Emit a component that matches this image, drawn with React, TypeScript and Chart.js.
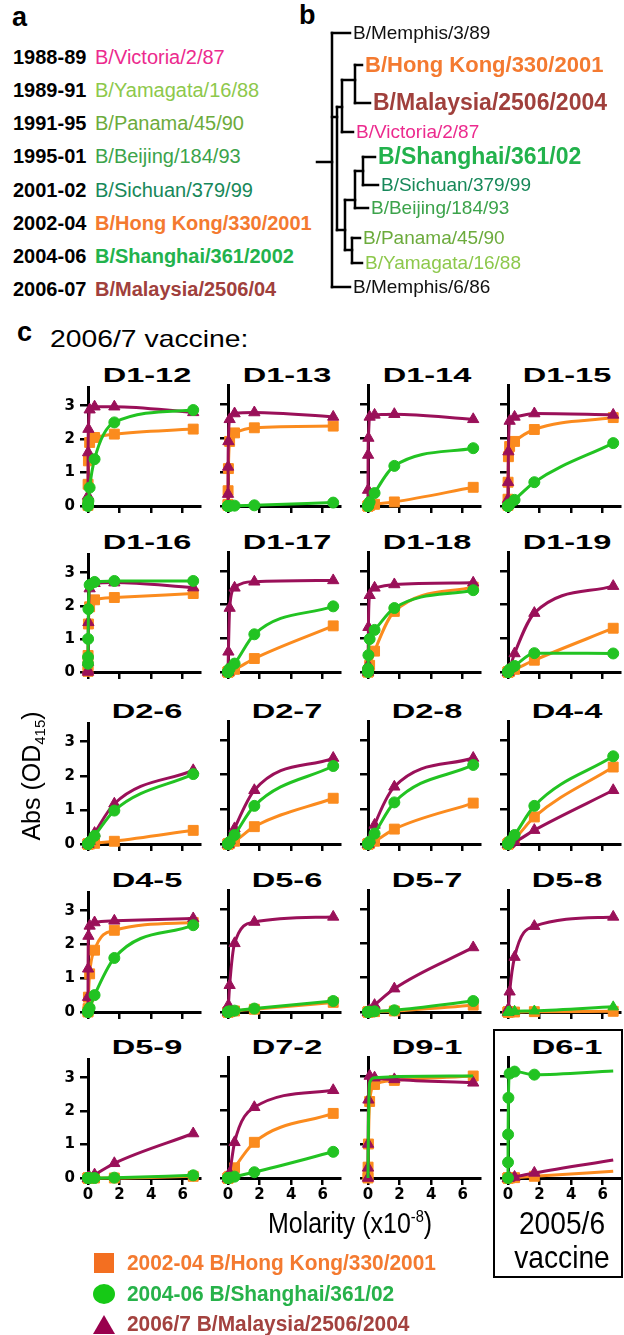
import React, { useEffect, useRef } from 'react';
import { Chart, registerables } from 'chart.js';
Chart.register(...registerables);

const FONT = '"Liberation Sans", Arial, Helvetica, sans-serif';
const TICK_FONT = '"DejaVu Sans", "Liberation Sans", Arial, sans-serif';

// ---------- DATA ----------
// antibody concentration (x10^-8 M), 4-fold dilution series
const molarity = [0.0004, 0.0016, 0.0065, 0.026, 0.104, 0.417, 1.67, 6.67];
const xTicks = [0, 2, 4, 6];
const yTicks = [0, 1, 2, 3];

const panelNames = [
  'D1-12', 'D1-13', 'D1-14', 'D1-15',
  'D1-16', 'D1-17', 'D1-18', 'D1-19',
  'D2-6', 'D2-7', 'D2-8', 'D4-4',
  'D4-5', 'D5-6', 'D5-7', 'D5-8',
  'D5-9', 'D7-2', 'D9-1', 'D6-1',
];

// Abs (OD415) against 2002-04 B/Hong Kong/330/2001
const hongKong = [
  [0.02, 0.1, 0.65, 1.35, 1.9, 2.05, 2.15, 2.3],
  [0.02, 0.05, 0.45, 1.1, 1.9, 2.15, 2.3, 2.35],
  [0, 0, 0, 0.01, 0.02, 0.05, 0.12, 0.55],
  [0.02, 0.2, 0.7, 1.45, 1.75, 1.9, 2.25, 2.6],
  [0.02, 0.2, 0.5, 1.45, 1.97, 2.18, 2.25, 2.37],
  [0, 0, 0, 0.01, 0.03, 0.08, 0.4, 1.37],
  [0, 0, 0.01, 0.05, 0.2, 0.62, 1.8, 2.52],
  [0, 0, 0, 0, 0.02, 0.08, 0.35, 1.3],
  [0, 0, 0, 0, 0, 0.02, 0.08, 0.4],
  [0, 0, 0, 0, 0.02, 0.08, 0.5, 1.32],
  [0, 0, 0, 0, 0.02, 0.08, 0.43, 1.18],
  [0, 0, 0, 0.01, 0.05, 0.15, 0.78, 2.22],
  [0, 0.02, 0.1, 0.44, 1.13, 1.83, 2.42, 2.65],
  [0, 0, 0, 0, 0.01, 0.03, 0.08, 0.28],
  [0, 0, 0, 0, 0, 0.01, 0.03, 0.2],
  [0, 0, 0, 0, 0, 0, 0.01, 0.02],
  [0, 0, 0, 0, 0, 0, 0, 0.05],
  [0, 0, 0, 0, 0.05, 0.3, 1.05, 1.9],
  [0, 0.05, 0.32, 1.0, 2.25, 2.75, 2.87, 3.0],
  [0, 0, 0, 0, 0, 0.01, 0.05, 0.2],
];

// Abs (OD415) against 2004-06 B/Shanghai/361/02
const shanghai = [
  [0, 0.02, 0.05, 0.15, 0.55, 1.4, 2.5, 2.87],
  [0, 0, 0, 0, 0, 0.01, 0.02, 0.1],
  [0, 0, 0.01, 0.03, 0.12, 0.38, 1.18, 1.7],
  [0, 0, 0, 0.02, 0.05, 0.18, 0.7, 1.85],
  [0.25, 0.45, 1.0, 1.9, 2.63, 2.72, 2.75, 2.75],
  [0, 0, 0.01, 0.03, 0.1, 0.25, 1.12, 1.95],
  [0, 0.02, 0.1, 0.5, 0.98, 1.25, 1.9, 2.43],
  [0, 0, 0, 0.02, 0.08, 0.18, 0.56, 0.55],
  [0, 0, 0, 0.02, 0.06, 0.24, 0.98, 2.05],
  [0, 0, 0, 0.02, 0.06, 0.26, 1.1, 2.25],
  [0, 0, 0, 0.02, 0.07, 0.3, 1.2, 2.28],
  [0, 0, 0, 0.02, 0.08, 0.26, 1.1, 2.53],
  [0, 0, 0.02, 0.05, 0.12, 0.5, 1.6, 2.57],
  [0, 0, 0, 0.01, 0.02, 0.04, 0.1, 0.32],
  [0, 0, 0, 0, 0.01, 0.02, 0.05, 0.32],
  [0, 0, 0, 0, 0.01, 0.02, 0.03, 0.15],
  [0, 0, 0, 0, 0, 0, 0.01, 0.08],
  [0, 0, 0, 0, 0.01, 0.04, 0.17, 0.77],
  [0, 0.1, 0.5, 1.5, 2.8, 2.95, 2.98, 3.0],
  [0, 0.46, 1.28, 2.36, 3.07, 3.13, 3.04, 3.15],
];

// Abs (OD415) against 2006/7 B/Malaysia/2506/2004
const malaysia = [
  [0.05, 0.3, 1.6, 2.3, 2.88, 2.97, 2.97, 2.8],
  [0.02, 0.35, 1.15, 1.9, 2.55, 2.72, 2.75, 2.62],
  [0.05, 0.47, 1.5, 2.0, 2.62, 2.68, 2.7, 2.55],
  [0.02, 0.2, 0.7, 1.6, 2.5, 2.62, 2.72, 2.68],
  [0, 0.05, 0.3, 1.5, 2.52, 2.68, 2.7, 2.55],
  [0, 0.02, 0.1, 0.6, 1.9, 2.5, 2.68, 2.72],
  [0, 0.05, 0.2, 1.33, 2.28, 2.5, 2.6, 2.65],
  [0, 0, 0, 0.02, 0.1, 0.55, 1.75, 2.55],
  [0, 0, 0, 0.02, 0.08, 0.32, 1.18, 2.16],
  [0, 0, 0, 0.02, 0.1, 0.45, 1.55, 2.48],
  [0, 0, 0, 0.02, 0.12, 0.55, 1.65, 2.48],
  [0, 0, 0, 0, 0.02, 0.06, 0.4, 1.55],
  [0.05, 0.44, 1.28, 2.25, 2.55, 2.65, 2.7, 2.77],
  [0, 0.01, 0.05, 0.2, 0.78, 2.0, 2.62, 2.77],
  [0, 0, 0, 0.01, 0.05, 0.2, 0.68, 1.88],
  [0, 0, 0.02, 0.1, 0.59, 1.6, 2.5, 2.77],
  [0, 0, 0, 0, 0.02, 0.1, 0.44, 1.33],
  [0, 0, 0, 0.02, 0.15, 1.05, 2.08, 2.58],
  [0, 0.3, 1.0, 2.3, 3.0, 2.95, 2.9, 2.8],
  [0, 0, 0, 0, 0.01, 0.03, 0.15, 0.53],
];

const noEndMarkers = ['D6-1'];
const lineOnly: Record<string, string> = { 'D9-1': 'sh' };
const shTriangles = ['D5-8'];

const seasonYears = ['1988-89', '1989-91', '1991-95', '1995-01', '2001-02', '2002-04', '2004-06', '2006-07'];
const seasonStrains = [
  'B/Victoria/2/87', 'B/Yamagata/16/88', 'B/Panama/45/90', 'B/Beijing/184/93',
  'B/Sichuan/379/99', 'B/Hong Kong/330/2001', 'B/Shanghai/361/2002', 'B/Malaysia/2506/04',
];

const legendLabels = ['2002-04 B/Hong Kong/330/2001', '2004-06 B/Shanghai/361/02', '2006/7 B/Malaysia/2506/2004'];

// phylogenetic tree: depth = branch position, pos = leaf/node row
const treeNodes = [
  { id: 'root', parent: '', depth: 32, pos: 162, label: '' },
  { id: 'm3', parent: 'root', depth: 50, pos: 33, label: 'B/Memphis/3/89' },
  { id: 'A', parent: 'root', depth: 37, pos: 117, label: '' },
  { id: 'U', parent: 'A', depth: 42, pos: 107, label: '' },
  { id: 'HM', parent: 'U', depth: 55, pos: 80, label: '' },
  { id: 'hk', parent: 'HM', depth: 62, pos: 65, label: 'B/Hong Kong/330/2001' },
  { id: 'my', parent: 'HM', depth: 70, pos: 103, label: 'B/Malaysia/2506/2004' },
  { id: 'vic', parent: 'U', depth: 53, pos: 132, label: 'B/Victoria/2/87' },
  { id: 'L', parent: 'A', depth: 45, pos: 230, label: '' },
  { id: 'SSB', parent: 'L', depth: 55, pos: 200, label: '' },
  { id: 'SS', parent: 'SSB', depth: 63, pos: 171, label: '' },
  { id: 'sh', parent: 'SS', depth: 75, pos: 157, label: 'B/Shanghai/361/02' },
  { id: 'sc', parent: 'SS', depth: 78, pos: 185, label: 'B/Sichuan/379/99' },
  { id: 'bj', parent: 'SSB', depth: 68, pos: 208, label: 'B/Beijing/184/93' },
  { id: 'PY', parent: 'L', depth: 52, pos: 250, label: '' },
  { id: 'pa', parent: 'PY', depth: 60, pos: 238, label: 'B/Panama/45/90' },
  { id: 'ya', parent: 'PY', depth: 62, pos: 263, label: 'B/Yamagata/16/88' },
  { id: 'm6', parent: 'root', depth: 50, pos: 287, label: 'B/Memphis/6/86' },
];
const treeRootStub = 17;

// ---------- STYLES / LAYOUT ----------
const ORANGE = '#FB8B1E';
const GREEN = '#22C322';
const MAROON = '#9A1059';

const strainColors = ['#EC2A8E', '#8DC84B', '#6CAB3C', '#3CA34B', '#17885A', '#F47A30', '#22B24C', '#A0403C'];
const strainBold = [false, false, false, false, false, true, true, true];
const rowCenters = [57, 90, 123, 156, 190, 223, 256, 289];

const leafStyle: Record<string, { color: string; bold: boolean; size: number }> = {
  m3: { color: '#111', bold: false, size: 19 },
  hk: { color: '#F47A30', bold: true, size: 22 },
  my: { color: '#A0403C', bold: true, size: 23 },
  vic: { color: '#EC2A8E', bold: false, size: 19 },
  sh: { color: '#22B24C', bold: true, size: 23 },
  sc: { color: '#17885A', bold: false, size: 19 },
  bj: { color: '#3CA34B', bold: false, size: 19 },
  pa: { color: '#6CAB3C', bold: false, size: 19 },
  ya: { color: '#8DC84B', bold: false, size: 19 },
  m6: { color: '#111', bold: false, size: 19 },
};

const COL_X = [88, 228, 368, 508];
const ROW_Y0 = [506, 672, 844, 1012, 1178];
const ROW_Y3 = [404, 571, 740, 909, 1076];
const X_MAX = 7.1;
const PLOT_W = 112;
const Y_AXIS_W = 44;
const X_AXIS_H = 30;
const PAD_T = 12;
const PAD_R = 14;

function geom(row: number, col: number) {
  const y0 = ROW_Y0[row];
  const unit = (y0 - ROW_Y3[row]) / 3;
  const axisTop = Math.round(y0 - 3.55 * unit);
  const plotH = y0 - axisTop;
  return {
    left: COL_X[col] - Y_AXIS_W,
    top: axisTop - PAD_T,
    width: Y_AXIS_W + PLOT_W + PAD_R,
    height: PAD_T + plotH + X_AXIS_H,
    yMax: plotH / unit,
    axisTop,
  };
}

function AbsPanel({ idx }: { idx: number }) {
  const ref = useRef<HTMLCanvasElement>(null);
  const row = Math.floor(idx / 4);
  const col = idx % 4;
  const g = geom(row, col);
  useEffect(() => {
    const name = panelNames[idx];
    const series = [
      { key: 'hk', label: legendLabels[0], values: hongKong[idx], color: ORANGE, style: 'rect', radius: 7, order: 3 },
      { key: 'my', label: legendLabels[2], values: malaysia[idx], color: MAROON, style: 'triangle', radius: 6.5, order: 2 },
      { key: 'sh', label: legendLabels[1], values: shanghai[idx], color: GREEN, style: shTriangles.includes(name) ? 'triangle' : 'circle', radius: shTriangles.includes(name) ? 6 : 5.5, order: 1 },
    ];
    const datasets = series.map((s) => ({
      label: s.label,
      data: molarity.map((x, i) => ({ x, y: s.values[i] })),
      showLine: true,
      borderColor: s.color,
      backgroundColor: s.color,
      borderWidth: 3,
      pointStyle: s.style,
      pointRadius: molarity.map((_, i) =>
        lineOnly[name] === s.key || (noEndMarkers.includes(name) && i === molarity.length - 1) ? 0 : s.radius
      ),
      pointBorderColor: s.color,
      pointBorderWidth: 1,
      cubicInterpolationMode: 'monotone',
      clip: false,
      order: s.order,
    }));
    const chart = new Chart(ref.current as HTMLCanvasElement, {
      type: 'scatter',
      data: { datasets } as any,
      options: {
        responsive: false,
        animation: false,
        events: [],
        layout: { padding: { top: PAD_T, right: PAD_R, left: 0, bottom: 0 } },
        plugins: { legend: { display: false }, tooltip: { enabled: false }, title: { display: false } },
        scales: {
          x: {
            type: 'linear',
            min: 0,
            max: X_MAX,
            afterBuildTicks: (s: any) => { s.ticks = xTicks.map((v) => ({ value: v })); },
            afterFit: (s: any) => { s.height = X_AXIS_H; },
            ticks: { display: row === 4, color: '#000', font: { family: TICK_FONT, size: 15, weight: 'bold' }, padding: 1, maxRotation: 0, autoSkip: false },
            grid: { display: true, drawOnChartArea: false, drawTicks: true, tickLength: 7, color: '#000', lineWidth: 2.5 },
            border: { display: true, color: '#000', width: 3 },
          },
          y: {
            type: 'linear',
            min: 0,
            max: g.yMax,
            afterBuildTicks: (s: any) => { s.ticks = yTicks.map((v) => ({ value: v })); },
            afterFit: (s: any) => { s.width = Y_AXIS_W; },
            ticks: { display: col === 0, color: '#000', font: { family: TICK_FONT, size: 15, weight: 'bold' }, padding: 5, autoSkip: false },
            grid: { display: true, drawOnChartArea: false, drawTicks: true, tickLength: 8, color: '#000', lineWidth: 2.5 },
            border: { display: true, color: '#000', width: 3 },
          },
        },
      } as any,
    });
    return () => chart.destroy();
  }, [idx]);
  return (
    <canvas
      ref={ref}
      width={g.width}
      height={g.height}
      style={{ position: 'absolute', left: g.left, top: g.top, width: g.width, height: g.height }}
    />
  );
}

function TreeChart() {
  const ref = useRef<HTMLCanvasElement>(null);
  useEffect(() => {
    const byId: Record<string, any> = {};
    treeNodes.forEach((n) => (byId[n.id] = n));
    const segs: { x: number; y: number }[][] = [];
    const root = treeNodes[0];
    segs.push([{ x: treeRootStub, y: root.pos }, { x: root.depth, y: root.pos }]);
    treeNodes.forEach((n) => {
      if (!n.parent) return;
      const p = byId[n.parent];
      segs.push([{ x: p.depth, y: n.pos }, { x: n.depth, y: n.pos }]);
    });
    treeNodes.forEach((n) => {
      const kids = treeNodes.filter((k) => k.parent === n.id);
      if (!kids.length) return;
      const ys = kids.map((k) => k.pos).concat([n.pos]);
      segs.push([{ x: n.depth, y: Math.min(...ys) }, { x: n.depth, y: Math.max(...ys) }]);
    });
    const labelPlugin = {
      id: 'treeLabels',
      afterDatasetsDraw(chart: any) {
        const { ctx, scales } = chart;
        treeNodes.forEach((n) => {
          if (!n.label) return;
          const st = leafStyle[n.id];
          ctx.save();
          ctx.font = `${st.bold ? 'bold ' : ''}${st.size}px ${FONT}`;
          ctx.fillStyle = st.color;
          ctx.textBaseline = 'middle';
          ctx.fillText(n.label, scales.x.getPixelForValue(n.depth) + 3, scales.y.getPixelForValue(n.pos) + 1);
          ctx.restore();
        });
      },
    };
    const chart = new Chart(ref.current as HTMLCanvasElement, {
      type: 'scatter',
      data: {
        datasets: segs.map((s) => ({
          data: s,
          showLine: true,
          borderColor: '#000',
          borderWidth: 2.5,
          borderCapStyle: 'square',
          pointRadius: 0,
          clip: false,
        })),
      } as any,
      options: {
        responsive: false,
        animation: false,
        events: [],
        layout: { padding: 0 },
        plugins: { legend: { display: false }, tooltip: { enabled: false } },
        scales: {
          x: { type: 'linear', min: 0, max: 324, display: false },
          y: { type: 'linear', min: 0, max: 300, reverse: true, display: false },
        },
      } as any,
      plugins: [labelPlugin],
    });
    return () => chart.destroy();
  }, []);
  return <canvas ref={ref} width={324} height={300} style={{ position: 'absolute', left: 300, top: 0, width: 324, height: 300 }} />;
}

function Txt(props: {
  x: number; base: number; size: number; bold?: boolean; color?: string; sx?: number;
  center?: boolean; children: React.ReactNode;
}) {
  const { x, base, size, bold, color, sx = 1, center, children } = props;
  const top = base - 0.8465 * size;
  return (
    <div
      style={{
        position: 'absolute',
        left: center ? x - 200 : x,
        width: center ? 400 : undefined,
        textAlign: center ? 'center' : 'left',
        top,
        font: `${bold ? 'bold ' : ''}${size}px ${FONT}`,
        lineHeight: `${size}px`,
        color: color || '#000',
        whiteSpace: 'nowrap',
        transform: `scaleX(${sx})`,
        transformOrigin: center ? 'center center' : 'left center',
      }}
    >
      {children}
    </div>
  );
}

export default function App() {
  useEffect(() => {
    document.body.style.margin = '0';
  }, []);
  return (
    <div style={{ position: 'absolute', left: 0, top: 0, width: 624, height: 1335, background: '#fff', overflow: 'hidden' }}>
      {/* panel a */}
      <Txt x={12} base={27} size={27} bold>a</Txt>
      {seasonYears.map((yr, i) => (
        <React.Fragment key={yr}>
          <Txt x={13} base={rowCenters[i] + 7} size={20} bold>{yr}</Txt>
          <Txt x={95} base={rowCenters[i] + 7} size={20} bold={strainBold[i]} color={strainColors[i]}>{seasonStrains[i]}</Txt>
        </React.Fragment>
      ))}
      {/* panel b */}
      <Txt x={299} base={25} size={27} bold>b</Txt>
      <TreeChart />
      {/* panel c */}
      <Txt x={17} base={342} size={27} bold>c</Txt>
      <Txt x={50} base={347} size={24} sx={1.18}>2006/7 vaccine:</Txt>
      {/* D6-1 box */}
      <div style={{ position: 'absolute', left: 493, top: 1029, width: 130, height: 249, border: '2px solid #000', boxSizing: 'border-box' }} />
      {panelNames.map((n, i) => {
        const g = geom(Math.floor(i / 4), i % 4);
        return (
          <Txt key={n} x={COL_X[i % 4] + 59} base={g.axisTop - 3} size={21} bold sx={1.55} center>{n}</Txt>
        );
      })}
      {panelNames.map((n, i) => <AbsPanel key={n} idx={i} />)}
      {/* axis titles */}
      <div
        style={{
          position: 'absolute', left: 31 - 100, top: 776 - 14, width: 200, height: 28, textAlign: 'center',
          font: `25px ${FONT}`, lineHeight: '28px', transform: 'rotate(-90deg)', transformOrigin: 'center center', whiteSpace: 'nowrap',
        }}
      >
        Abs (OD<sub style={{ fontSize: 15, verticalAlign: 'baseline', position: 'relative', top: 5 }}>415</sub>)
      </div>
      <Txt x={268} base={1234} size={29} sx={0.86}>
        Molarity (x10<sup style={{ fontSize: 17, verticalAlign: 'baseline', position: 'relative', top: -11 }}>-8</sup>)
      </Txt>
      <Txt x={562} base={1234} size={32} sx={0.88} center>2005/6</Txt>
      <Txt x={562} base={1268} size={32} sx={0.88} center>vaccine</Txt>
      {/* legend */}
      <svg style={{ position: 'absolute', left: 90, top: 1248 }} width={28} height={90}>
        <rect x={4} y={5} width={20} height={20} fill="#F36F21" />
        <ellipse cx={14} cy={46} rx={11} ry={10} fill="#16C916" />
        <polygon points="3,86 25,86 14,67" fill="#99004D" />
      </svg>
      <Txt x={127} base={1263 + 8} size={22} bold sx={0.95} color="#F47A30">{legendLabels[0]}</Txt>
      <Txt x={127} base={1294 + 8} size={22} bold sx={0.95} color="#27B24A">{legendLabels[1]}</Txt>
      <Txt x={127} base={1324 + 8} size={22} bold sx={0.95} color="#A3423F">{legendLabels[2]}</Txt>
    </div>
  );
}
